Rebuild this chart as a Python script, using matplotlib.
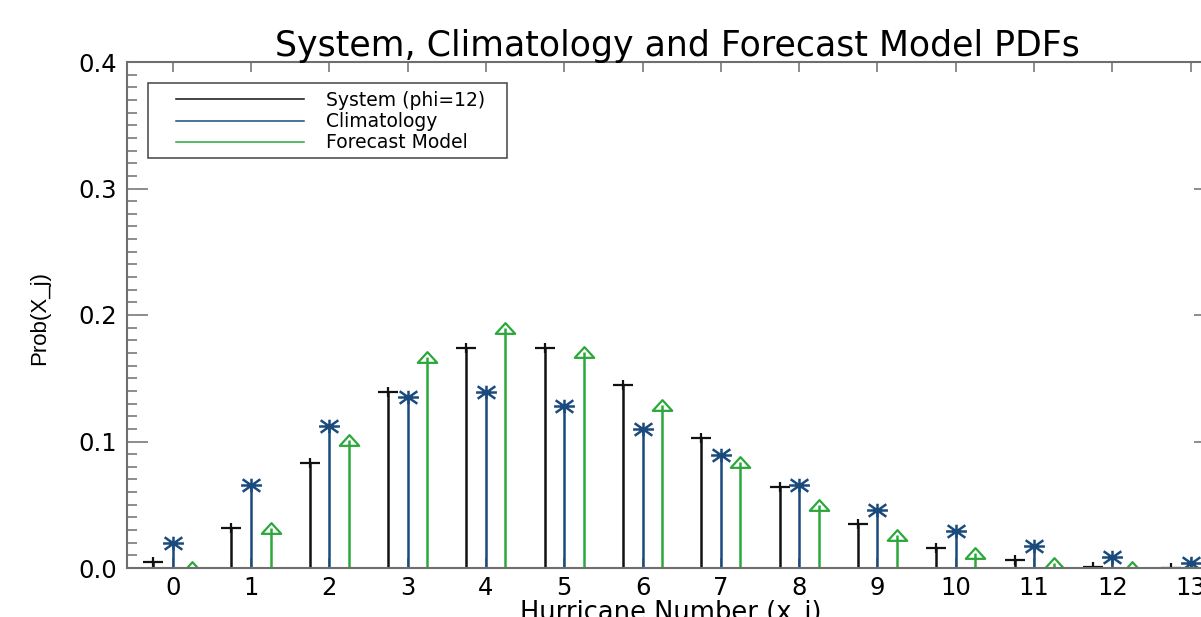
import numpy as np
import matplotlib
matplotlib.use("Agg")
import matplotlib.pyplot as plt
from matplotlib.path import Path
from matplotlib.patches import Rectangle
from matplotlib.lines import Line2D

# hurricane counts and the three pdfs
hurricanes = np.arange(14)
system_pdf = [0.005, 0.032, 0.083, 0.139, 0.174, 0.174, 0.145, 0.103,
              0.064, 0.035, 0.016, 0.006, 0.001, 0.0003]
clim_pdf = [0.020, 0.066, 0.112, 0.135, 0.139, 0.128, 0.110, 0.089,
            0.066, 0.046, 0.029, 0.017, 0.009, 0.004]
forecast_pdf = [0.0005, 0.032, 0.101, 0.167, 0.190, 0.171, 0.129, 0.084,
                0.050, 0.026, 0.012, 0.004, 0.0005, 0.0001]
x_ticks = list(range(14))
y_ticks = [0.0, 0.1, 0.2, 0.3, 0.4]
legend_labels = ["System (phi=12)", "Climatology", "Forecast Model"]

c_sys = "#111111"
c_clim = "#1b4a7c"
c_fc = "#2aa83a"
axis_col = "#6e6e6e"

# IDL-like symbols, wider than tall like in the stretched original
plus_mk = Path([(-1, 0), (1, 0), (0, -0.55), (0, 0.55)],
               [Path.MOVETO, Path.LINETO, Path.MOVETO, Path.LINETO])
ast_mk = Path([(-1, 0), (1, 0), (0, -0.65), (0, 0.65),
               (-0.85, -0.6), (0.85, 0.6), (-0.85, 0.6), (0.85, -0.6)],
              [Path.MOVETO, Path.LINETO] * 4)
tri_mk = Path([(-1, -0.55), (1, -0.55), (0, 0.55), (-1, -0.55)],
              [Path.MOVETO, Path.LINETO, Path.LINETO, Path.CLOSEPOLY])

W, H = 1201, 617
fig = plt.figure(figsize=(W / 100, H / 100), dpi=100)
ax = fig.add_axes([127 / W, 1 - 568 / H, (1215 - 127) / W, (568 - 62) / H])

off = 0.25
ax.vlines(hurricanes - off, 0, system_pdf, color=c_sys, lw=1.8)
ax.vlines(hurricanes, 0, clim_pdf, color=c_clim, lw=1.8)
ax.vlines(hurricanes + off, 0, forecast_pdf, color=c_fc, lw=1.8)
ax.plot(hurricanes - off, system_pdf, ls="none", marker=plus_mk, ms=14,
        mec=c_sys, mew=1.6)
ax.plot(hurricanes, clim_pdf, ls="none", marker=ast_mk, ms=15,
        mec=c_clim, mew=1.8)
ax.plot(hurricanes + off, forecast_pdf, ls="none", marker=tri_mk, ms=14,
        mfc="none", mec=c_fc, mew=1.6)

ax.set_xlim(-0.583, 13.31)
ax.set_ylim(0, 0.4)

ax.set_xticks(x_ticks)
ax.set_xticklabels([str(t) for t in x_ticks])
ax.set_yticks(y_ticks)
ax.set_yticklabels(["%.1f" % t for t in y_ticks])
ax.set_yticks(np.arange(0, 0.401, 0.01), minor=True)
ax.tick_params(axis="x", which="major", direction="in", top=True, bottom=True,
               length=7.2, width=1.1, color=axis_col, labelsize=17.5, pad=6)
ax.tick_params(axis="y", which="major", direction="in", left=True, right=True,
               length=15, width=1.1, color=axis_col, labelsize=17.5, pad=7)
ax.tick_params(axis="y", which="minor", direction="in", left=True, right=True,
               length=7.2, width=1.1, color=axis_col)
for sp in ax.spines.values():
    sp.set_color(axis_col)
    sp.set_linewidth(1.5)

# legend: lines + labels, with a plain box like the IDL one
handles = [Line2D([], [], color=c, lw=1.1) for c in (c_sys, c_clim, c_fc)]
ax.legend(handles, legend_labels, loc="upper left",
          bbox_to_anchor=((176 - 127) / 1088, (568 - 91) / 506),
          frameon=False, fontsize=13.5, handlelength=6.8, handletextpad=1.2,
          labelspacing=0.12, borderpad=0, borderaxespad=0)
ax.add_patch(Rectangle(((148 - 127) / 1088, (568 - 158) / 506),
                       (507 - 148) / 1088, (158 - 83) / 506,
                       transform=ax.transAxes, fill=False, ec="#444444",
                       lw=1.1, zorder=5))

fig.text(677 / W, 1 - 56 / H, "System, Climatology and Forecast Model PDFs",
         ha="center", va="baseline", fontsize=25)
fig.text(40 / W, 1 - 318 / H, "Prob(X_j)", rotation=90, ha="center",
         va="center", fontsize=16, family=["Liberation Sans", "DejaVu Sans"])
fig.text(671 / W, 1 - 600 / H, "Hurricane Number (x_i)", ha="center",
         va="top", fontsize=18.5)

fig.savefig("out.png", dpi=100)
